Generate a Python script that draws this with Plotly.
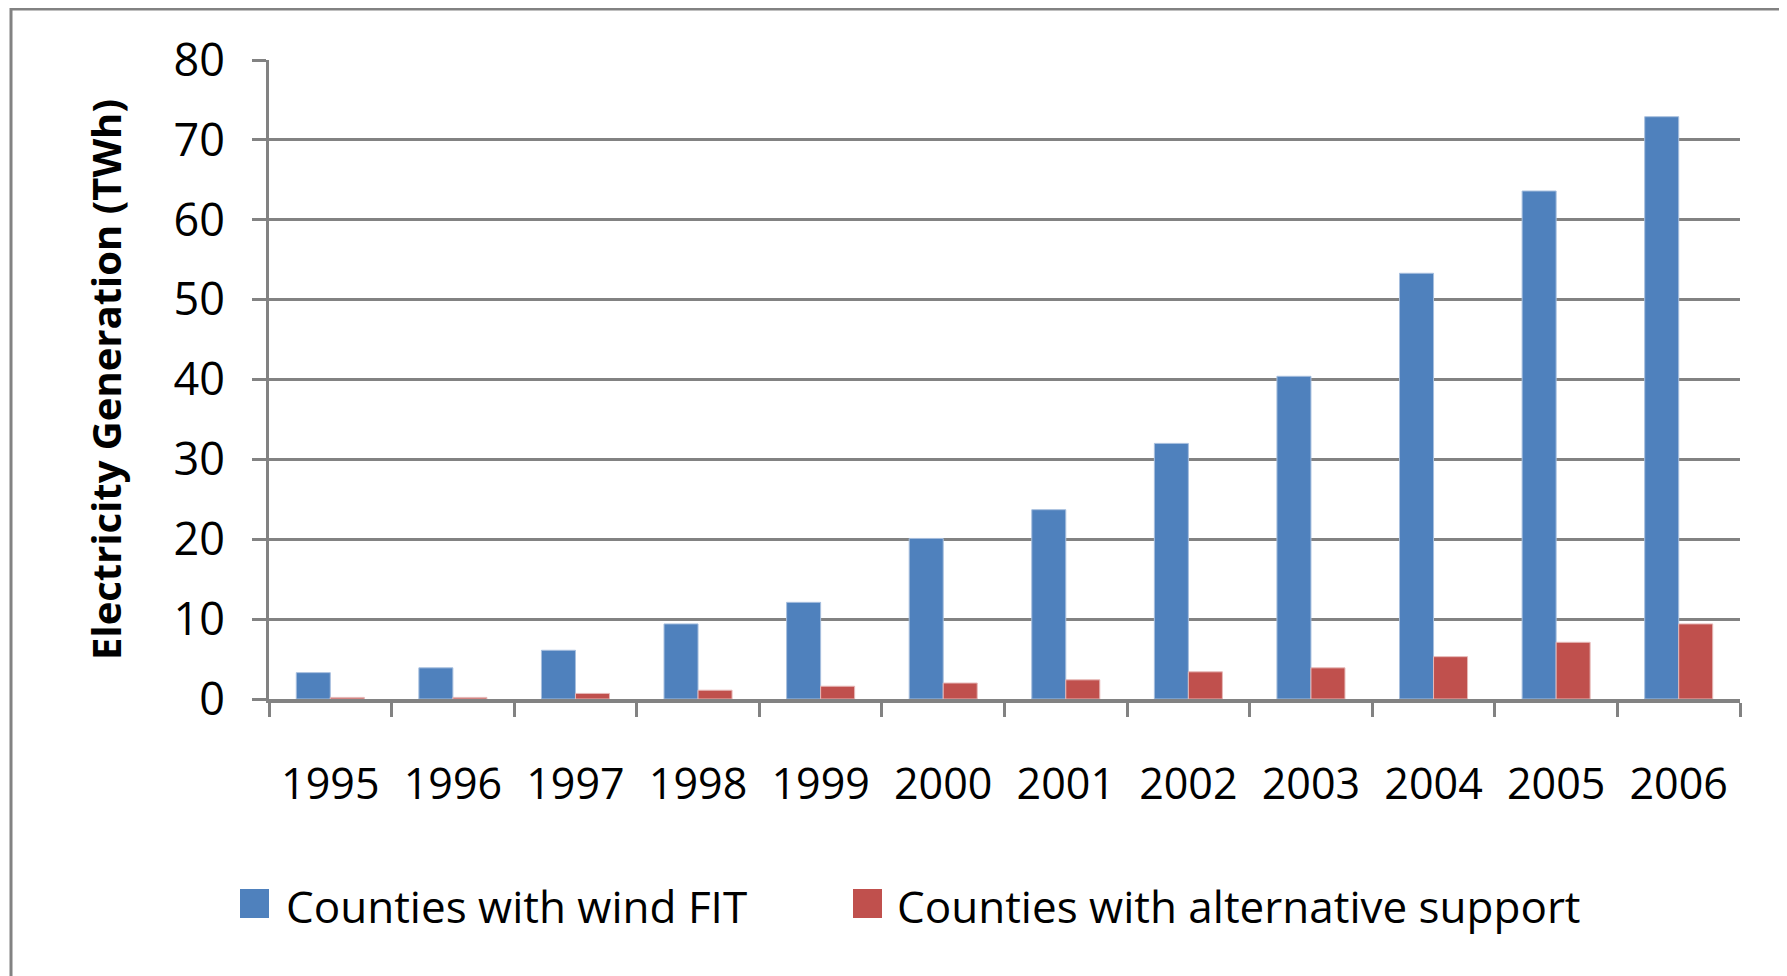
import plotly.graph_objects as go

years = ["1995", "1996", "1997", "1998", "1999", "2000", "2001", "2002", "2003", "2004", "2005", "2006"]
wind_fit = [3.3, 3.9, 6.1, 9.4, 12.1, 20.1, 23.7, 32.0, 40.4, 53.3, 63.6, 72.9]
alt_support = [0.2, 0.2, 0.7, 1.1, 1.6, 2.0, 2.4, 3.4, 3.9, 5.3, 7.1, 9.4]
series_names = ["Counties with wind FIT", "Counties with alternative support"]
y_ticks = [0, 10, 20, 30, 40, 50, 60, 70, 80]

BLUE = "#4F81BD"
RED = "#C0504D"
GRID = "#828282"
FONT = "Open Sans"

OFF = 8  # page body offset
W, H = 1779, 968
L, R, T, B = 261, 47, 52, 277
pw, ph = W - L - R, H - T - B


def px_x(px):
    return (px - OFF - L) / pw


def px_y(py):
    return (H - B - (py - OFF)) / ph


fig = go.Figure()
fig.add_trace(go.Bar(x=years, y=wind_fit, name=series_names[0], marker=dict(color=BLUE, line=dict(color="#A7BFDE", width=1)), showlegend=False))
fig.add_trace(go.Bar(x=years, y=alt_support, name=series_names[1], marker=dict(color=RED, line=dict(color="#E6B9B8", width=1)), showlegend=False))

fig.update_layout(
    width=W, height=H,
    margin=dict(l=L, r=R, t=T, b=B, pad=0),
    paper_bgcolor="white", plot_bgcolor="white",
    barmode="group", bargap=0.445, bargroupgap=0,
    font=dict(family=FONT, size=42, color="black"),
)
fig.update_xaxes(
    type="category", showline=True, linecolor=GRID, linewidth=4,
    ticks="outside", tickson="boundaries", ticklen=14, tickwidth=3, tickcolor=GRID,
    ticklabelstandoff=44, showgrid=False, tickfont=dict(size=43),
)
fig.update_yaxes(
    range=[0, 80], tickvals=y_ticks, showline=True, linecolor=GRID, linewidth=3,
    showgrid=True, gridcolor=GRID, gridwidth=3.3, zeroline=False,
    ticks="outside", ticklen=14, tickwidth=3, tickcolor=GRID, ticklabelstandoff=18,
    tickfont=dict(size=45),
    title=dict(text="<b>Electricity Generation (TWh)</b>", font=dict(size=40), standoff=40),
)

# outer chart border (cropped on the right and bottom)
fig.add_shape(type="rect", xref="paper", yref="paper",
              x0=px_x(11), x1=px_x(1830), y0=px_y(1020), y1=px_y(9),
              line=dict(color=GRID, width=3), fillcolor="rgba(0,0,0,0)", layer="below")

# legend (bottom)
legend_items = [(series_names[0], BLUE, 240, 284), (series_names[1], RED, 853, 895)]
for name, col, sx, tx in legend_items:
    fig.add_shape(type="rect", xref="paper", yref="paper",
                  x0=px_x(sx), x1=px_x(sx + 29), y0=px_y(918), y1=px_y(889),
                  line=dict(width=0), fillcolor=col)
    fig.add_annotation(text=name, xref="paper", yref="paper", x=px_x(tx), y=px_y(906),
                       xanchor="left", yanchor="middle", showarrow=False,
                       font=dict(size=44, family=FONT, color="black"))

fig.write_html("out.html")
